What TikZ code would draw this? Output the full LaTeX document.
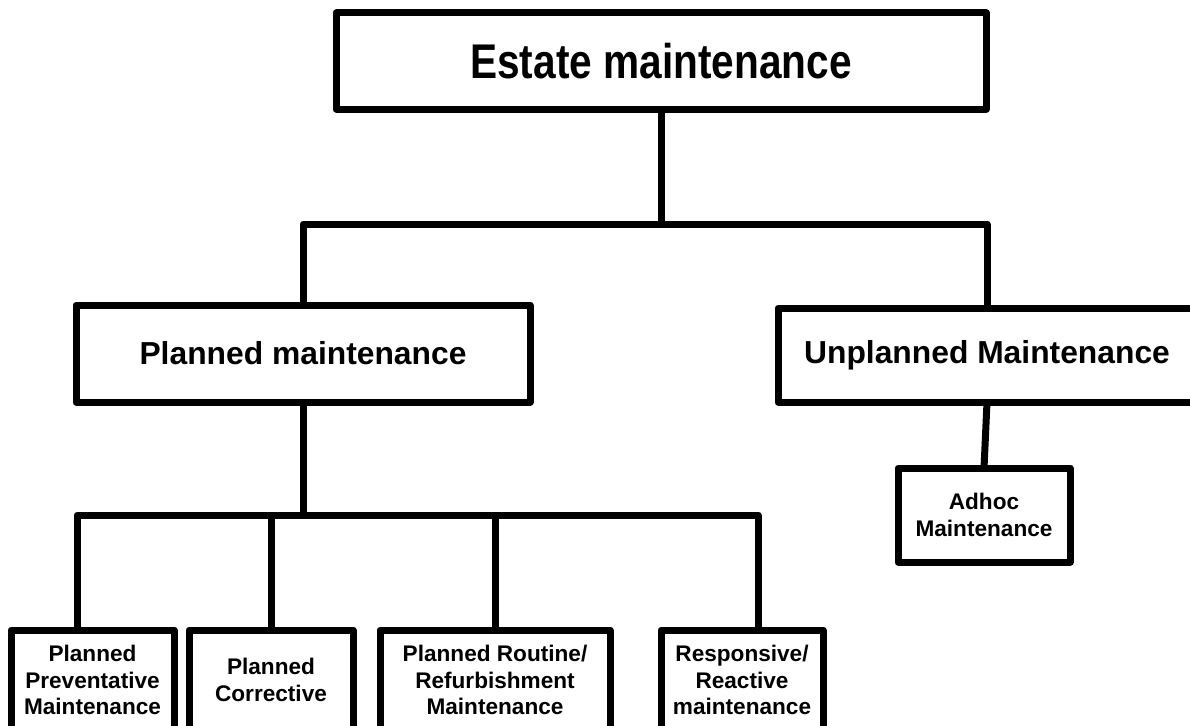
\documentclass[tikz,border=0pt]{standalone}
\usepackage{fontspec}
\setmainfont{Liberation Sans}
\begin{document}
\begin{tikzpicture}[x=1pt, y=-1pt, line width=7pt, line join=round,
	box/.style={draw, inner sep=0pt, outer sep=0pt, align=center},
	big/.style={font=\fontsize{40.6}{48}\selectfont\bfseries},
	mid/.style={font=\fontsize{31.8}{38}\selectfont\bfseries},
	small/.style={font=\fontsize{22.6}{26.5}\selectfont\bfseries}]
	\def\boty{680}
	\useasboundingbox (0,0) rectangle (1190,725);
	\node[box, big, minimum width=650pt, minimum height=96pt] (estate) at (661,61) {\scalebox{1}[1.2]{Estate maintenance}};
	\node[box, mid, minimum width=454pt, minimum height=97pt] (planned) at (303,353.5) {Planned maintenance};
	\node[box, mid, minimum width=418pt, minimum height=94pt] (unplanned) at (987,355) {Unplanned Maintenance};
	\node[box, small, minimum width=172pt, minimum height=94pt] (adhoc) at (984,515) {Adhoc\\Maintenance};
	\node[box, small, minimum width=163pt, minimum height=100pt] (ppm) at (92.5,\boty) {Planned\\Preventative\\Maintenance};
	\node[box, small, minimum width=164pt, minimum height=100pt] (pcm) at (271,\boty) {Planned\\Corrective};
	\node[box, small, minimum width=230pt, minimum height=100pt] (prm) at (495,\boty) {Planned Routine/\\Refurbishment\\Maintenance};
	\node[box, small, minimum width=162pt, minimum height=100pt] (rrm) at (742,\boty) {Responsive/\\Reactive\\maintenance};
	\coordinate (hub) at (661,224);
	\coordinate (bus) at (303,515);
	\draw (estate.south) -- (hub);
	\draw (planned.north) |- (hub) -| (unplanned.north);
	\draw (unplanned.south) -- (adhoc.north);
	\draw (planned.south) -- (bus);
	\draw ([xshift=-15.5pt]ppm.north) |- (bus) -| ([xshift=16pt]rrm.north);
	\draw (pcm.north) -- (pcm.north |- bus) (prm.north) -- (prm.north |- bus);
\end{tikzpicture}
\end{document}
